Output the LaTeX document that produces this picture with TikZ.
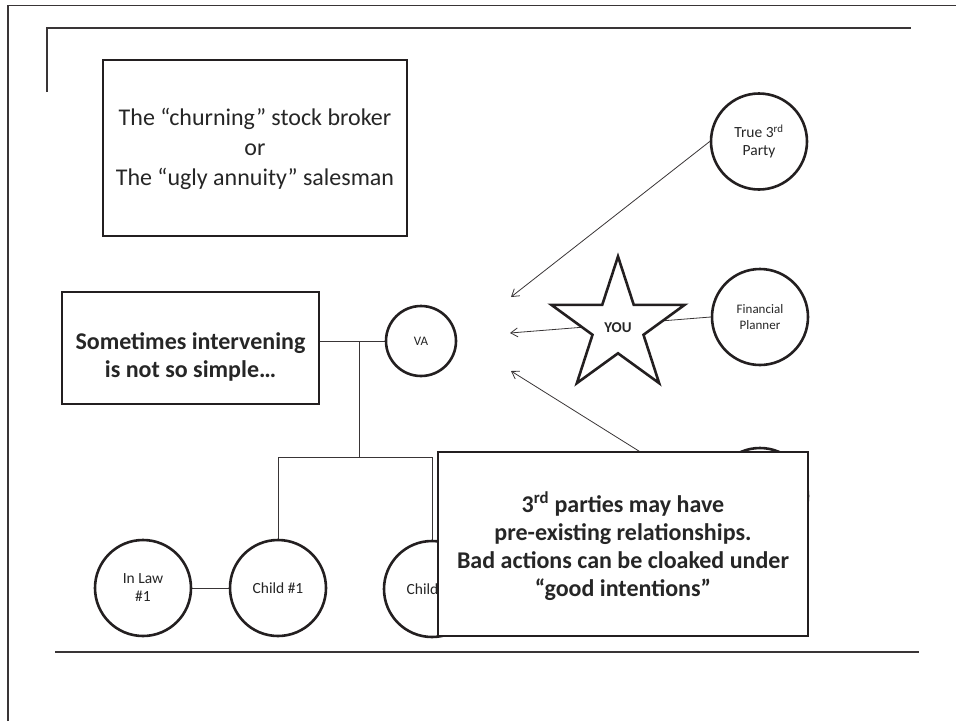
\documentclass[tikz,border=0pt]{standalone}
\usepackage{fontspec}
\setmainfont{Carlito}
\usetikzlibrary{arrows.meta,backgrounds}
\definecolor{ink}{HTML}{231F20}
\definecolor{txt}{HTML}{262626}
\begin{document}
\begin{tikzpicture}[x=1pt,y=-1pt,
  frame/.style={draw=ink!90, line width=1.6pt},
  rule/.style={draw=ink!90, line width=2pt},
  person/.style={circle, draw=ink, line width=2.6pt, fill=white,
    minimum size=96pt, inner sep=0pt, align=center, text=txt,
    font=\fontsize{15.5}{18}\selectfont},
  smallperson/.style={person, font=\fontsize{13}{16}\selectfont},
  starline/.style={draw=ink, line width=2.6pt, fill=white, line join=miter},
  textbox/.style={rectangle, draw=ink, line width=2.6pt, fill=white, inner sep=0pt},
  boxtext/.style={align=center, text=txt, inner sep=0pt},
  link/.style={draw=ink!90, line width=1pt},
  pointer/.style={draw=ink!90, line width=0.8pt, -{Straight Barb[length=7pt,width=9pt]}}
]
\useasboundingbox (0,0) rectangle (956,721);

% page frame and rules
\draw[frame] (8,721) -- (8,5.5) -- (956,5.5);
\draw[rule] (47,92) -- (47,28) -- (911,28);
\draw[rule] (55,652) -- (919,652);

% heading box
\node[textbox, minimum width=304pt, minimum height=176pt] (broker) at (255,148) {};
\node[boxtext, font=\fontsize{24}{30}\selectfont] (brokertxt) at (255,149)
  {The “churning” stock broker\\or\\The “ugly annuity” salesman};

% people
\node[person, minimum size=70pt, font=\fontsize{13}{16}\selectfont] (va) at (421,341) {VA};
\node[person] (third) at (759,141.5) {True 3\textsuperscript{rd}\\Party};
\node[smallperson] (planner) at (760,317) {Financial\\Planner};
\node[person] (hidden) at (760,496) {};
\node[person] (inlaw) at (143,588) {In Law\\\#1};
\node[person] (child1) at (278,588) {Child \#1};
\node[person] (child2) at (432,589) {Child \#2};

% the five-pointed star around YOU
\begin{scope}[shift={(618,326.5)}, yscale=-1]
  \draw[starline] (90:70) -- (126:26.8) -- (162:70) -- (198:26.8) -- (234:70)
    -- (270:26.8) -- (306:70) -- (342:26.8) -- (18:70) -- (54:26.8) -- cycle;
\end{scope}
\node[text=txt, font=\bfseries\fontsize{15}{18}\selectfont, inner sep=0pt] (you) at (618,328) {YOU};

% family tree box
\node[textbox, minimum width=257pt, minimum height=112pt] (intervene) at (190.5,348) {};
\node[boxtext, font=\bfseries\fontsize{24}{28}\selectfont] (intervenetxt) at (190.5,357)
  {Sometimes intervening\\is not so simple…};

% note box
\node[textbox, minimum width=370pt, minimum height=184pt] (note) at (623,544) {};
\node[boxtext, font=\bfseries\fontsize{24}{28}\selectfont] (notetxt) at (623,546)
  {3\textsuperscript{rd} parties may have\\pre-existing relationships.\\Bad actions can be cloaked under\\“good intentions”};

% arrow ends and tree joints
\coordinate (tipA) at (511,297);
\coordinate (tipB) at (510,333);
\coordinate (tipC) at (511,371);
\coordinate (trunk) at (359,341);
\coordinate (fork) at (359,457);
\coordinate (forkL) at (278,457);
\coordinate (forkR) at (432,457);

\begin{scope}[on background layer]
  \draw[pointer] (third.west) -- (tipA);
  \draw[pointer] (planner.west) -- (tipB);
  \draw[pointer] (hidden.180) -- (tipC);
  \draw[link] (intervene.east |- va.west) -- (va.west);
  \draw[link] (trunk) -- (fork);
  \draw[link] (forkL) -- (forkR);
  \draw[link] (forkL) -- (child1.north);
  \draw[link] (forkR) -- (child2.north);
  \draw[link] (inlaw.east) -- (child1.west);
\end{scope}
\end{tikzpicture}
\end{document}
